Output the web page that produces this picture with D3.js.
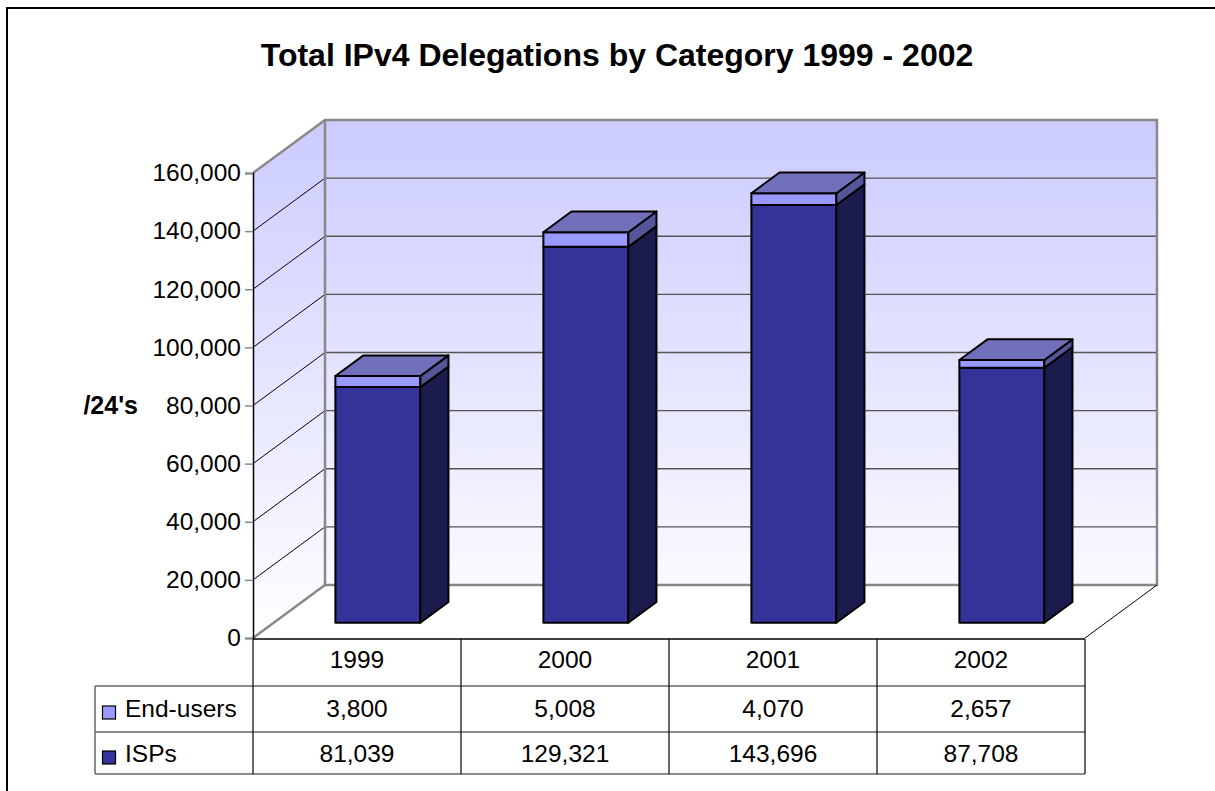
<!DOCTYPE html>
<html>
<head>
<meta charset="utf-8">
<script src="https://cdn.jsdelivr.net/npm/d3@7"></script>
<style>
  body { margin: 0; background: #fff; }
  svg { font-family: "Liberation Sans", Arial, sans-serif; }
</style>
</head>
<body>
<script>
var years = ["1999", "2000", "2001", "2002"];
var seriesNames = ["End-users", "ISPs"];
var endUsers = [3800, 5008, 4070, 2657];
var isps = [81039, 129321, 143696, 87708];
var yTicks = [0, 20000, 40000, 60000, 80000, 100000, 120000, 140000, 160000];

var W = 1215, H = 791;
var depthX = 72, depthY = 53;      // full depth of the 3d box
var barD0 = 0.29, barD1 = 0.68;    // bars sit between these depth fractions
var fs = 24.5;                     // normal text size

var svg = d3.select("body").append("svg")
  .attr("width", W).attr("height", H);

var x = d3.scaleBand().domain(years).range([253, 1085]);
var y = d3.scaleLinear().domain([0, 160000]).range([638, 173]);

// point in 3d -> screen
function px(xv, d) { return xv + d * depthX; }
function py(v, d) { return y(v) - d * depthY; }
function pts(a) { return a.map(function (p) { return p.join(","); }).join(" "); }

// frame
svg.append("rect").attr("x", 7).attr("y", 8).attr("width", W + 20).attr("height", H + 20)
  .attr("fill", "none").attr("stroke", "#000").attr("stroke-width", 2);

// title
svg.append("text").attr("x", 617).attr("y", 66).attr("text-anchor", "middle")
  .attr("font-size", 32).attr("font-weight", "bold")
  .text("Total IPv4 Delegations by Category 1999 - 2002");

var defs = svg.append("defs");
var grad = defs.append("linearGradient").attr("id", "wall")
  .attr("gradientUnits", "userSpaceOnUse")
  .attr("x1", 0).attr("y1", py(160000, 1)).attr("x2", 0).attr("y2", y(0));
grad.append("stop").attr("offset", 0).attr("stop-color", "#cbcbff");
grad.append("stop").attr("offset", 1).attr("stop-color", "#ffffff");

var x0 = x.range()[0], x1 = x.range()[1];

// back wall
svg.append("polygon")
  .attr("points", pts([[px(x0, 1), py(160000, 1)], [px(x1, 1), py(160000, 1)], [px(x1, 1), py(0, 1)], [px(x0, 1), py(0, 1)]]))
  .attr("fill", "url(#wall)");
// side wall
svg.append("polygon")
  .attr("points", pts([[px(x0, 0), py(160000, 0)], [px(x0, 1), py(160000, 1)], [px(x0, 1), py(0, 1)], [px(x0, 0), py(0, 0)]]))
  .attr("fill", "url(#wall)");
// floor
svg.append("polygon")
  .attr("points", pts([[px(x0, 0), py(0, 0)], [px(x0, 1), py(0, 1)], [px(x1, 1), py(0, 1)], [px(x1, 0), py(0, 0)]]))
  .attr("fill", "#fff");

// gridlines
svg.selectAll(".gb").data(yTicks.slice(1, -1)).enter().append("line")
  .attr("x1", px(x0, 1)).attr("x2", px(x1, 1))
  .attr("y1", function (d) { return py(d, 1); }).attr("y2", function (d) { return py(d, 1); })
  .attr("stroke", "#555").attr("stroke-width", 1.3);
svg.selectAll(".gs").data(yTicks.slice(1, -1)).enter().append("line")
  .attr("x1", px(x0, 0)).attr("x2", px(x0, 1))
  .attr("y1", function (d) { return py(d, 0); }).attr("y2", function (d) { return py(d, 1); })
  .attr("stroke", "#000").attr("stroke-width", 1);

// wall edges
svg.append("polyline")
  .attr("points", pts([[px(x0, 0), py(160000, 0)], [px(x0, 1), py(160000, 1)], [px(x1, 1), py(160000, 1)], [px(x1, 1), py(0, 1)], [px(x0, 1), py(0, 1)], [px(x0, 0), py(0, 0)]]))
  .attr("fill", "none").attr("stroke", "#888").attr("stroke-width", 2.5);
svg.append("line").attr("x1", px(x0, 1)).attr("x2", px(x0, 1))
  .attr("y1", py(160000, 1)).attr("y2", py(0, 1)).attr("stroke", "#888").attr("stroke-width", 2.5);
svg.append("line").attr("x1", px(x1, 1)).attr("y1", py(0, 1)).attr("x2", px(x1, 0)).attr("y2", py(0, 0))
  .attr("stroke", "#000").attr("stroke-width", 1);

// front axis
var axis = d3.axisLeft(y).tickValues(yTicks).tickFormat(d3.format(",")).tickSize(8).tickPadding(4);
var ga = svg.append("g").attr("transform", "translate(" + x0 + ",0)").call(axis);
ga.attr("font-size", null).attr("font-family", null);
ga.select(".domain").attr("stroke", "#000").attr("stroke-width", 1.5);
ga.selectAll(".tick line").attr("stroke", "#888").attr("stroke-width", 1.5);
ga.selectAll(".tick text").attr("font-size", fs).attr("fill", "#000");

svg.append("text").attr("x", 138).attr("y", 414).attr("text-anchor", "end")
  .attr("font-size", 25).attr("font-weight", "bold").text("/24's");

// bars
var colors = {
  ISPs: { front: "#333399", side: "#1c1c4e", top: "#6b6bb3" },
  "End-users": { front: "#9999ff", side: "#55559a", top: "#7070bb" }
};
var bw = 85;
years.forEach(function (yr, i) {
  var bx0 = x(yr) + (x.bandwidth() - bw) / 2;
  var bx1 = bx0 + bw;
  var segs = [["ISPs", 0, isps[i]], ["End-users", isps[i], isps[i] + endUsers[i]]];
  var g = svg.append("g");
  segs.forEach(function (s) {
    var c = colors[s[0]], lo = s[1], hi = s[2];
    g.append("polygon")
      .attr("points", pts([[px(bx0, barD0), py(hi, barD0)], [px(bx1, barD0), py(hi, barD0)], [px(bx1, barD0), py(lo, barD0)], [px(bx0, barD0), py(lo, barD0)]]))
      .attr("fill", c.front).attr("stroke", "#000").attr("stroke-width", 2).attr("stroke-linejoin", "round");
    g.append("polygon")
      .attr("points", pts([[px(bx1, barD0), py(hi, barD0)], [px(bx1, barD1), py(hi, barD1)], [px(bx1, barD1), py(lo, barD1)], [px(bx1, barD0), py(lo, barD0)]]))
      .attr("fill", c.side).attr("stroke", "#000").attr("stroke-width", 2).attr("stroke-linejoin", "round");
  });
  var top = isps[i] + endUsers[i];
  g.append("polygon")
    .attr("points", pts([[px(bx0, barD0), py(top, barD0)], [px(bx0, barD1), py(top, barD1)], [px(bx1, barD1), py(top, barD1)], [px(bx1, barD0), py(top, barD0)]]))
    .attr("fill", colors["End-users"].top).attr("stroke", "#000").attr("stroke-width", 2).attr("stroke-linejoin", "round");
});

// data table
var rowY = [639, 686, 732, 774];
var baseY = [668, 717, 762];
var tableLeft = 95;
var rows = [[seriesNames[0], endUsers], [seriesNames[1], isps]];

svg.append("line").attr("x1", x0).attr("x2", x1).attr("y1", rowY[0]).attr("y2", rowY[0])
  .attr("stroke", "#000").attr("stroke-width", 1.5);
[rowY[1], rowY[2], rowY[3]].forEach(function (ry) {
  svg.append("line").attr("x1", tableLeft).attr("x2", x1).attr("y1", ry).attr("y2", ry)
    .attr("stroke", "#666").attr("stroke-width", 1.5);
});
svg.append("line").attr("x1", tableLeft).attr("x2", tableLeft).attr("y1", rowY[1]).attr("y2", rowY[3])
  .attr("stroke", "#666").attr("stroke-width", 1.5);
years.concat(["end"]).forEach(function (yr, i) {
  var lx = i < years.length ? x(yr) : x1;
  svg.append("line").attr("x1", lx).attr("x2", lx).attr("y1", rowY[0]).attr("y2", rowY[3])
    .attr("stroke", "#000").attr("stroke-width", 1.2);
});

svg.selectAll(".yr").data(years).enter().append("text")
  .attr("x", function (d) { return x(d) + x.bandwidth() / 2; })
  .attr("y", baseY[0])
  .attr("text-anchor", "middle").attr("font-size", fs).text(function (d) { return d; });

rows.forEach(function (r, ri) {
  var by = baseY[ri + 1];
  svg.append("rect").attr("x", 102.5).attr("y", by - 11).attr("width", 13).attr("height", 13)
    .attr("fill", colors[r[0]].front).attr("stroke", "#000").attr("stroke-width", 1.2);
  svg.append("text").attr("x", 125).attr("y", by).attr("font-size", fs).text(r[0]);
  svg.selectAll(".v" + ri).data(r[1]).enter().append("text")
    .attr("x", function (d, i) { return x(years[i]) + x.bandwidth() / 2; })
    .attr("y", by).attr("text-anchor", "middle").attr("font-size", fs)
    .text(function (d) { return d3.format(",")(d); });
});
</script>
</body>
</html>
